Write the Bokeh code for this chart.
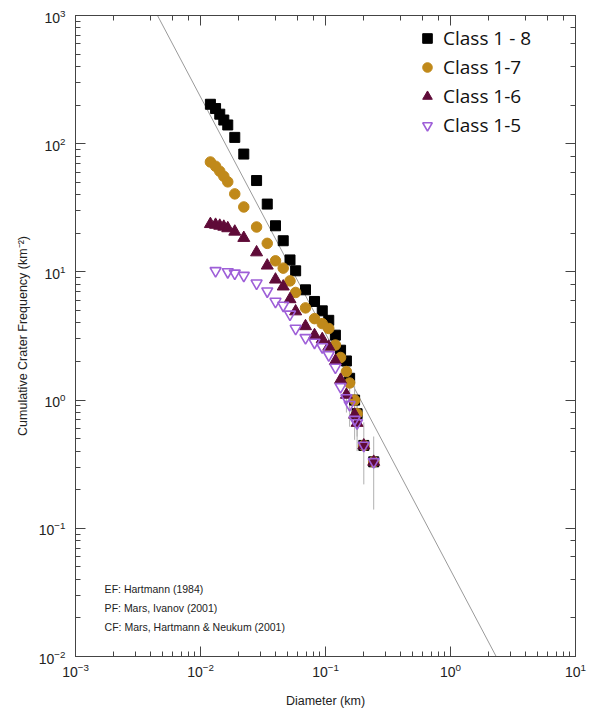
from bokeh.plotting import figure
from bokeh.models import (LogAxis, LogTicker, Legend, LegendItem, Label,
                          CustomJSTickFormatter)
from bokeh.embed import file_html
from bokeh.resources import INLINE

# ---------------- data ----------------
# Class 1 - 8
d_c8 = [0.0120, 0.0132, 0.01426, 0.01536, 0.01652, 0.0188, 0.0222, 0.0281, 0.0342,
        0.0398, 0.0459, 0.0520, 0.0577, 0.0692, 0.0817, 0.0942, 0.1062, 0.120, 0.132,
        0.147, 0.156, 0.171, 0.179, 0.2025, 0.243]
n_c8 = [203, 188, 170, 153, 140, 112, 83, 51.6, 33.8, 22.9, 17.5, 12.4, 10.2, 7.25,
        5.88, 4.97, 4.19, 3.21, 2.45, 2.02, 1.48, 1.00, 0.783, 0.443, 0.330]
# Class 1-7
d_c7 = [0.0120, 0.0132, 0.01426, 0.01536, 0.01652, 0.0188, 0.0222, 0.0281, 0.0342,
        0.0398, 0.0459, 0.0520, 0.0577, 0.0692, 0.0817, 0.0942, 0.1062, 0.120, 0.132,
        0.147, 0.156, 0.171, 0.179, 0.2025, 0.243]
n_c7 = [72.0, 66.7, 61.0, 55.7, 50.4, 40.6, 32.1, 22.4, 16.7, 12.2, 10.7, 8.51, 6.91,
        5.24, 4.32, 3.95, 3.62, 2.69, 2.15, 1.67, 1.36, 1.00, 0.783, 0.443, 0.330]
# Class 1-6
d_c6 = [0.0120, 0.0132, 0.01426, 0.01536, 0.01652, 0.0188, 0.0222, 0.0281, 0.0342,
        0.0398, 0.0459, 0.0520, 0.0577, 0.0692, 0.0817, 0.0942, 0.1062, 0.120, 0.132,
        0.147, 0.171, 0.179, 0.2025, 0.243]
n_c6 = [23.6, 23.3, 22.9, 22.5, 21.9, 20.6, 18.4, 14.2, 11.2, 8.71, 7.69, 6.12, 4.92,
        3.77, 3.21, 2.99, 2.61, 2.02, 1.44, 1.10, 0.769, 0.664, 0.443, 0.330]
# Class 1-5
d_c5 = [0.0132, 0.01652, 0.0188, 0.0222, 0.0281, 0.0342, 0.0398, 0.0459, 0.0520,
        0.0577, 0.0692, 0.0817, 0.0942, 0.1062, 0.120, 0.132, 0.147, 0.156, 0.171,
        0.179, 0.2025, 0.243]
n_c5 = [10.2, 10.0, 9.75, 9.36, 8.16, 7.08, 5.88, 5.48, 4.67, 3.62, 3.06, 2.82, 2.60,
        2.25, 1.80, 1.27, 1.04, 0.92, 0.705, 0.664, 0.443, 0.330]

# visible error bars (diameter, low, high)
err_d = [0.156, 0.171, 0.179, 0.147, 0.171, 0.179, 0.156, 0.2025, 0.243]
err_lo = [1.15, 0.72, 0.52, 0.80, 0.49, 0.40, 0.62, 0.22, 0.14]
err_hi = [1.80, 1.29, 1.05, 1.40, 1.05, 0.93, 1.22, 0.67, 0.52]

# reference isochron line end points
ref_d = [0.00453, 2.32]
ref_n = [1000, 0.01]

series_labels = ["Class 1 - 8", "Class 1-7", "Class 1-6", "Class 1-5"]
notes = ["EF: Hartmann (1984)", "PF: Mars, Ivanov (2001)",
         "CF: Mars, Hartmann & Neukum (2001)"]
note_x = 1.71e-3
note_y = [0.0335, 0.0238, 0.0170]

# ---------------- figure ----------------
FONT = "Liberation Sans"
p = figure(width=595, height=710, x_axis_type="log", y_axis_type="log",
           x_range=(1e-3, 10), y_range=(1e-2, 1e3),
           output_backend="svg", toolbar_location=None,
           min_border_left=75, min_border_right=20, min_border_top=15,
           min_border_bottom=52)
p.grid.visible = False
p.outline_line_color = None
p.background_fill_color = "white"

p.line(ref_d, ref_n, line_color="#9a9a9a", line_width=1)
p.segment(x0=err_d, y0=err_lo, x1=err_d, y1=err_hi, line_color="#b0b0b0", line_width=1)

r8 = p.scatter(d_c8, n_c8, marker="square", size=10, fill_color="black", line_color="black")
r7 = p.scatter(d_c7, n_c7, marker="circle", size=10.5, fill_color="#C0891A", line_color="#C0891A")
r6 = p.scatter(d_c6, n_c6, marker="triangle", size=12, fill_color="#5F0B38", line_color="#5F0B38")
r5 = p.scatter(d_c5, n_c5, marker="inverted_triangle", size=11, fill_color=None,
               line_color="#9E5FD8", line_width=1.6)

# axes styling
def style_axis(ax):
    ax.major_tick_in = 10
    ax.major_tick_out = 0
    ax.minor_tick_in = 5
    ax.minor_tick_out = 0
    ax.axis_line_color = "#444444"
    ax.major_tick_line_color = "#444444"
    ax.minor_tick_line_color = "#444444"
    ax.major_label_text_font = FONT
    ax.major_label_text_font_size = "14px"
    ax.major_label_text_color = "#222222"
    ax.axis_label_text_font = FONT
    ax.axis_label_text_font_size = "12.5px"
    ax.axis_label_text_font_style = "normal"
    ax.axis_label_text_color = "#222222"

for ax in p.xaxis + p.yaxis:
    style_axis(ax)
p.xaxis.axis_label = "Diameter (km)"
p.yaxis.axis_label = "Cumulative Crater Frequency (km\u207b\u00b2)"
p.xaxis.major_label_standoff = 6
p.xaxis.axis_label_standoff = 14
p.yaxis.major_label_standoff = 10
p.yaxis.axis_label_standoff = 6

blank = CustomJSTickFormatter(code="return ''")
top = LogAxis(ticker=LogTicker(), formatter=blank, major_label_standoff=0)
right = LogAxis(ticker=LogTicker(), formatter=blank, major_label_standoff=0)
style_axis(top)
style_axis(right)
p.add_layout(top, "above")
p.add_layout(right, "right")

legend = Legend(items=[LegendItem(label=series_labels[0], renderers=[r8]),
                       LegendItem(label=series_labels[1], renderers=[r7]),
                       LegendItem(label=series_labels[2], renderers=[r6]),
                       LegendItem(label=series_labels[3], renderers=[r5])],
                location=(335, 513), glyph_width=24, glyph_height=24, spacing=3,
                padding=5, margin=0, label_standoff=4,
                label_text_font="Open Sans", label_text_font_size="19px",
                label_text_color="#111111",
                border_line_alpha=0, background_fill_alpha=0)
p.add_layout(legend)

for t, yv in zip(notes, note_y):
    p.add_layout(Label(x=note_x, y=yv, text=t, text_font=FONT, text_font_size="10.5px",
                       text_baseline="middle", text_color="#222222"))

open("out.html", "w").write(file_html(p, INLINE))
